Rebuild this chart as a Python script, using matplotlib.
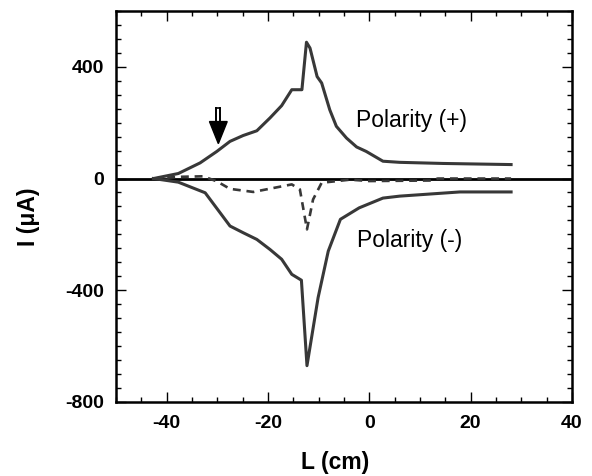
import matplotlib
matplotlib.use("Agg")
import matplotlib.pyplot as plt
from matplotlib.ticker import MultipleLocator

plt.rcParams['font.family'] = ['Liberation Sans', 'DejaVu Sans']
plt.rcParams['axes.unicode_minus'] = False

# Polarity (+) curve
pos_L = [-42.6, -37.7, -33.4, -30.1, -27.5, -24.9, -22.2, -19.6, -17.3, -15.3, -13.3,
         -12.4, -11.7, -10.3, -9.4, -7.8, -6.5, -4.5, -2.5, -0.6, 2.7, 6.0, 14.5, 28.0]
pos_I = [0, 18, 56, 97, 133, 154, 171, 217, 261, 318, 318,
         488, 467, 365, 342, 246, 187, 145, 113, 97, 62, 58, 54, 50]

# Polarity (-) curve
neg_L = [-42.6, -37.7, -32.4, -27.5, -24.9, -22.2, -19.6, -17.3, -15.3, -13.4,
         -12.3, -10.1, -8.1, -5.7, -2.0, 2.7, 6.0, 17.9, 28.0]
neg_I = [0, -13, -51, -170, -194, -218, -254, -289, -343, -364,
         -670, -426, -260, -146, -105, -70, -63, -48, -48]

# Difference (dashed) curve
dif_L = [-42.6, -37.7, -32.8, -30.1, -27.5, -22.9, -15.3, -13.7, -12.3, -11.1,
         -9.4, -6.8, -3.8, 0.0, 12.5, 13.5, 28.0]
dif_I = [0, 6, 8, -10, -37, -48, -21, -39, -182, -75,
         -15, -10, -4, -9, -7, 0, 0]

x_ticks = [-40, -20, 0, 20, 40]
y_ticks = [-800, -400, 0, 400]

arrow_L = -29.8
arrow_tip = 125
arrow_head_base = 204
arrow_top = 254

fig = plt.figure(figsize=(5.92, 4.76), dpi=100)
ax = fig.add_axes([0.196, 0.1555, 0.770, 0.8215])

line_col = '#383838'
ax.axhline(0, color='black', lw=2.0, zorder=1)
ax.plot(pos_L, pos_I, color=line_col, lw=2.2, zorder=3)
ax.plot(neg_L, neg_I, color=line_col, lw=2.2, zorder=3)
ax.plot(dif_L, dif_I, color=line_col, lw=1.9, ls=(0, (3, 2.2)), zorder=3)

# arrow marker
hw = 1.75
ax.fill([arrow_L - hw, arrow_L + hw, arrow_L], [arrow_head_base, arrow_head_base, arrow_tip],
        color='black', zorder=4)
sw = 0.42
ax.plot([arrow_L - sw, arrow_L - sw], [arrow_head_base, arrow_top], color='black', lw=1.4, zorder=4)
ax.plot([arrow_L + sw, arrow_L + sw], [arrow_head_base, arrow_top], color='black', lw=1.4, zorder=4)
ax.plot([arrow_L - sw, arrow_L + sw], [arrow_top, arrow_top], color='black', lw=1.2, zorder=4)

ax.text(8.4, 207, 'Polarity (+)', fontsize=16.5, ha='center', va='center')
ax.text(8.0, -221, 'Polarity (-)', fontsize=16.5, ha='center', va='center')

ax.set_xlim(-50, 40)
ax.set_ylim(-800, 600)
ax.set_xticks(x_ticks)
ax.set_yticks(y_ticks)
ax.xaxis.set_minor_locator(MultipleLocator(5))
ax.yaxis.set_minor_locator(MultipleLocator(50))
ax.tick_params(which='both', direction='in', top=True, right=True, width=1.0)
ax.tick_params(which='major', length=7.5)
ax.tick_params(which='minor', length=3.5)
ax.tick_params(axis='y', which='major', pad=8.5)
ax.tick_params(axis='x', which='major', pad=9.5)
for lab in ax.get_xticklabels() + ax.get_yticklabels():
    lab.set_fontsize(14)
    lab.set_fontweight('bold')
for sp in ax.spines.values():
    sp.set_linewidth(1.8)

fig.text(335 / 592, 1 - 463 / 476, 'L (cm)', fontsize=16.5, fontweight='bold',
         ha='center', va='center')
fig.text(28 / 592, 1 - 217 / 476, 'I (\u03bcA)', fontsize=16.5, fontweight='bold',
         ha='center', va='center', rotation=90)

fig.savefig('out.png', dpi=100)
